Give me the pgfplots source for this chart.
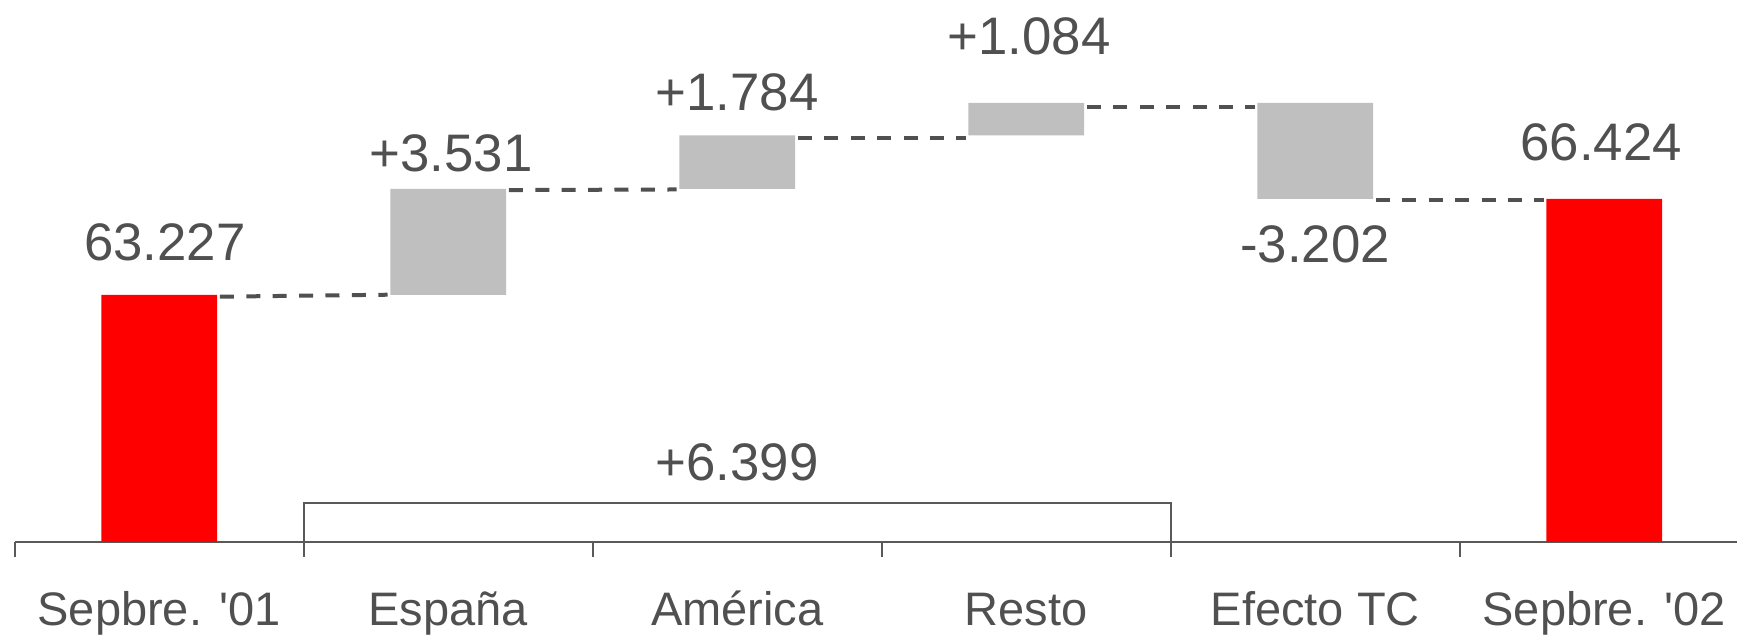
\documentclass[border=0pt]{standalone}
\usepackage{pgfplots}
\pgfplotsset{compat=1.18}
\usepackage{fontspec}
\setmainfont{Liberation Sans}
\definecolor{txt}{RGB}{80,80,80}
\definecolor{barred}{RGB}{255,0,0}
\definecolor{bargray}{RGB}{191,191,191}
\definecolor{axgray}{RGB}{89,89,89}
\pgfplotsset{wfbase/.style={width=861.15pt, height=271pt, scale only axis,
  xmin=-0.5, xmax=5.4595, ymin=55, ymax=73.05}}
\tikzset{lbl/.style={anchor=base, text=txt, font=\fontsize{26.4}{30}\selectfont, inner sep=0pt},
  conn/.style={color=txt, line width=2pt, dash pattern=on 7pt off 6.2pt}}
\begin{document}
\begin{tikzpicture}
\begin{axis}[wfbase, ybar stacked, bar width=0.4,
  axis x line=bottom, axis y line=none,
  x axis line style={-, line width=1pt, color=axgray},
  xtick={0,...,5},
  xticklabels={{Sepbre. \textquotesingle 01}, España, América, Resto, Efecto TC, {Sepbre. \textquotesingle 02}},
  major tick length=0pt,
  minor xtick={-0.5,0.5,1.5,2.5,3.5,4.5},
  minor tick length=7.5pt, tick align=outside,
  tick style={axgray, line width=1pt},
  xticklabel style={anchor=base, yshift=-42pt, text=txt,
    font=\fontsize{23.5}{28}\selectfont, inner sep=0pt},
  ]
\addplot[fill=none, draw=none] coordinates {(0,0) (1,63.227) (2,66.758) (3,68.542) (4,66.424) (5,0)};
\addplot[fill=bargray, draw=none] coordinates {(0,0) (1,3.531) (2,1.784) (3,1.084) (4,3.202) (5,0)};
\addplot[fill=barred, draw=none] coordinates {(0,63.227) (1,0) (2,0) (3,0) (4,0) (5,66.424)};
\end{axis}
\begin{axis}[wfbase, hide axis]
\addplot[conn] coordinates {(0.21,63.17) (0.79,63.235)};
\addplot[conn] coordinates {(1.21,66.72) (1.79,66.74)};
\addplot[conn] coordinates {(2.21,68.45) (2.79,68.45)};
\addplot[conn] coordinates {(3.21,69.47) (3.79,69.47)};
\addplot[conn] coordinates {(4.21,66.40) (4.79,66.40)};
\addplot[axgray, line width=0.8pt] coordinates {(0.5,55) (0.5,56.3) (3.5,56.3) (3.5,55)};
\node[lbl] at (axis cs:0.02,64.39) {63.227};
\node[lbl] at (axis cs:1.01,67.33) {+3.531};
\node[lbl] at (axis cs:2.0,69.385) {+1.784};
\node[lbl] at (axis cs:3.01,71.22) {+1.084};
\node[lbl] at (axis cs:4.0,64.31) {-3.202};
\node[lbl] at (axis cs:4.99,67.72) {66.424};
\node[lbl] at (axis cs:2.0,57.04) {+6.399};
\end{axis}
\pgfresetboundingbox
\useasboundingbox (-7.35pt,-47.5pt) rectangle (861.15pt,271pt);
\end{tikzpicture}
\end{document}
